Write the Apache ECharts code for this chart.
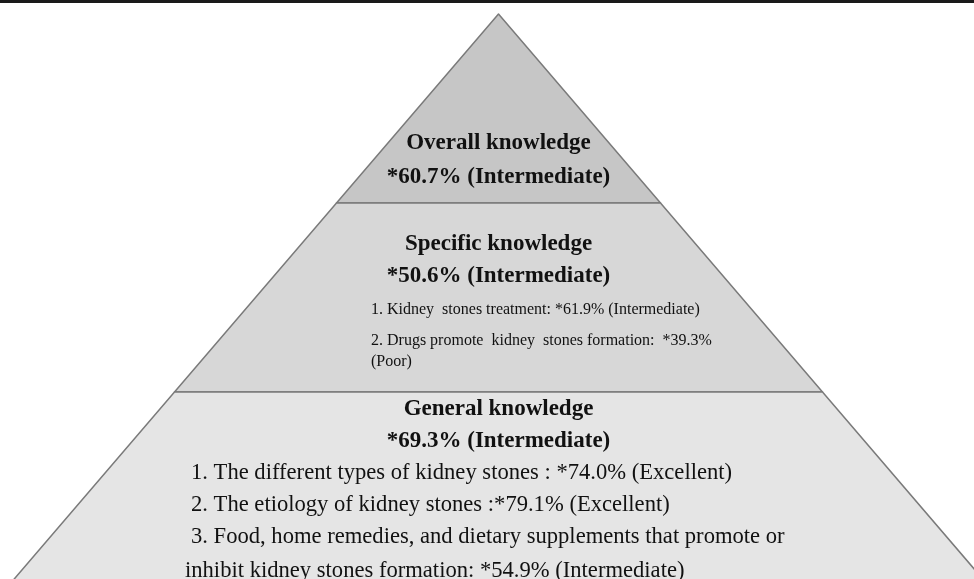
<!DOCTYPE html>
<html>
<head>
<meta charset="utf-8">
<script src="https://cdn.jsdelivr.net/npm/echarts@6/dist/echarts.min.js"></script>
<style>
  html, body { margin: 0; padding: 0; background: #fff; }
  #main { width: 974px; height: 579px; }
</style>
</head>
<body>
<div id="main"></div>
<script>
// tiers from top to bottom
var tierNames = ['Overall knowledge', 'Specific knowledge', 'General knowledge'];
var tierScores = ['*60.7%', '*50.6%', '*69.3%'];
var tierGrades = ['Intermediate', 'Intermediate', 'Intermediate'];
// width rank of each tier (pyramid step)
var tierLevels = [1, 2, 3];
var tierColors = ['#c6c6c6', '#d7d7d7', '#e5e5e5'];

var specificLines = [
    '1. Kidney  stones treatment: *61.9% (Intermediate)',
    '2. Drugs promote  kidney  stones formation:  *39.3%',
    '(Poor)'
];
var generalLines = [
    '1. The different types of kidney stones : *74.0% (Excellent)',
    '2. The etiology of kidney stones :*79.1% (Excellent)',
    '3. Food, home remedies, and dietary supplements that promote or',
    'inhibit kidney stones formation: *54.9% (Intermediate)'
];

var FONT = '"Liberation Serif", "Times New Roman", serif';

function header(i, style) {
    return '{' + style + '|' + tierNames[i] + '}\n{' + style + '|' + tierScores[i] + ' (' + tierGrades[i] + ')}';
}

// padding top pushes the text block down inside each tier
var labels = [
    {
        formatter: header(0, 'h0'),
        padding: [104, 0, 0, 0],
        rich: {
            h0: { fontFamily: FONT, fontSize: 23, fontWeight: 'bold', color: '#111', lineHeight: 34 }
        }
    },
    {
        formatter: header(1, 'h') + '\n{s1|' + specificLines[0] + '}\n{s2|' + specificLines[1] + '}\n{s3|' + specificLines[2] + '}',
        width: 255,
        padding: [2, 0, 0, 0],
        rich: {
            h: { fontFamily: FONT, fontSize: 23, fontWeight: 'bold', color: '#111', lineHeight: 32, align: 'center' },
            s1: { fontFamily: FONT, fontSize: 16, color: '#111', lineHeight: 34, align: 'left' },
            s2: { fontFamily: FONT, fontSize: 16, color: '#111', lineHeight: 28, align: 'left' },
            s3: { fontFamily: FONT, fontSize: 16, color: '#111', lineHeight: 14, align: 'left' }
        }
    },
    {
        formatter: header(2, 'h') + '\n{g|' + generalLines[0] + '}\n{g|' + generalLines[1] + '}\n{g|' + generalLines[2] + '}\n{g2|' + generalLines[3] + '}',
        width: 627,
        padding: [10, 0, 0, 0],
        rich: {
            h: { fontFamily: FONT, fontSize: 23, fontWeight: 'bold', color: '#111', lineHeight: 32, align: 'center' },
            g: { fontFamily: FONT, fontSize: 22.6, color: '#111', lineHeight: 32, align: 'left', padding: [0, 0, 0, 6] },
            g2: { fontFamily: FONT, fontSize: 22.6, color: '#111', lineHeight: 36, align: 'left' }
        }
    }
];

var seriesData = tierNames.map(function (name, i) {
    return {
        name: name,
        value: tierLevels[i],
        itemStyle: { color: tierColors[i] },
        label: labels[i]
    };
});

var myChart = echarts.init(document.getElementById('main'));

var option = {
    animation: false,
    backgroundColor: '#fff',
    graphic: [
        {
            type: 'rect',
            shape: { x: 0, y: 0, width: 974, height: 3 },
            style: { fill: '#1a1a1a' }
        }
    ],
    series: [
        {
            type: 'funnel',
            left: 12.5,
            top: 14,
            width: 972,
            height: 567,
            min: 0,
            max: 3,
            minSize: '0%',
            maxSize: '100%',
            sort: 'ascending',
            gap: 0,
            silent: true,
            itemStyle: {
                borderColor: '#7a7a7a',
                borderWidth: 1.5
            },
            label: {
                show: true,
                position: 'inside',
                color: '#111',
                fontFamily: FONT
            },
            labelLine: { show: false },
            data: seriesData
        }
    ]
};

myChart.setOption(option);
window.onresize = myChart.resize;
</script>
</body>
</html>
